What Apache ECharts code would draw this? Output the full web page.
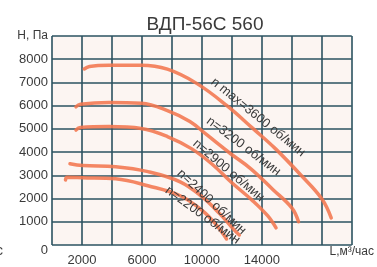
<!DOCTYPE html>
<html>
<head>
<meta charset="utf-8">
<script src="https://cdn.jsdelivr.net/npm/echarts@6/dist/echarts.min.js"></script>
<style>html,body{margin:0;padding:0;background:#fff;}#c{width:377px;height:267px;}</style>
</head>
<body>
<div id="c"></div>
<script>
// ---- data ----
const title = 'ВДП-56С 560';
const yName = 'H, Па';
const xName = 'L,м³/час';
const xTickLabels = [2000, 6000, 10000, 14000];

const flow3600 = [2150, 2500, 3800, 5950, 7700, 9650, 11650, 13400, 14900, 16650, 18000, 18630];
const pres3600 = [7580, 7690, 7740, 7740, 7570, 6960, 6010, 5020, 4150, 2980, 1990, 1170];

const flow3200 = [1600, 1900, 3800, 5950, 7700, 9200, 10300, 11900, 13250, 14750, 16000, 16450];
const pres3200 = [5950, 6060, 6140, 6100, 5790, 5320, 4760, 3940, 3290, 2380, 1600, 1000];

const flow2900 = [1600, 1900, 3800, 5950, 7700, 9300, 10650, 12000, 13400, 14400, 14950];
const pres2900 = [4950, 5060, 5100, 5015, 4670, 4150, 3500, 2680, 1900, 1250, 740];

const flow2400 = [1200, 2050, 4250, 6400, 8550, 10000, 11200, 12150, 12500];
const pres2400 = [3500, 3420, 3370, 3160, 2720, 2080, 1340, 650, 430];

const flow2200 = [900, 1000, 2050, 4250, 6400, 8550, 10050, 10850, 11650];
const pres2200 = [2800, 2920, 2900, 2850, 2550, 2120, 1470, 950, 260];

const curveNames = ['n max=3600 об/мин', 'n=3200 об/мин', 'n=2900 об/мин', 'n=2400 об/мин', 'n=2200 об/мин'];

// ---- presentation ----
const curves = [[flow3600, pres3600], [flow3200, pres3200], [flow2900, pres2900], [flow2400, pres2400], [flow2200, pres2200]];
const labelPlace = [
  {coord: [13750, 5500], rot: -39},
  {coord: [12780, 4250], rot: -37},
  {coord: [11780, 3200], rot: -40},
  {coord: [10650, 1850], rot: -43},
  {coord: [10050, 1280], rot: -36}
];
const gridColor = '#2b5260';
const curveColor = '#f2764f';
const textColor = '#3a3a3a';
const font = 'Liberation Sans, Arial, sans-serif';

const series = curves.map((c, i) => ({
  type: 'line',
  name: curveNames[i],
  data: c[0].map((x, k) => [x, c[1][k]]),
  smooth: 0.4,
  showSymbol: false,
  symbol: 'none',
  lineStyle: {color: curveColor, width: 3.5, opacity: 0.88, cap: 'round'},
  z: 3,
  markPoint: {
    symbol: 'circle', symbolSize: 0, silent: true,
    data: [{coord: labelPlace[i].coord, value: curveNames[i]}],
    label: {show: true, position: 'inside', rotate: labelPlace[i].rot, formatter: curveNames[i],
      color: textColor, fontSize: 13, fontFamily: font}
  }
}));

const chart = echarts.init(document.getElementById('c'), null, {renderer: 'canvas'});
chart.setOption({
  animation: false,
  backgroundColor: '#ffffff',
  title: {text: title, left: 200, top: 10, textAlign: 'center',
    textStyle: {color: textColor, fontSize: 19, fontWeight: 'normal', fontFamily: font}},
  grid: {left: 52, right: 19, top: 36, bottom: 21, show: true, backgroundColor: '#fcf5f2', borderWidth: 0},
  xAxis: {
    type: 'value', min: 0, max: 20000, interval: 2000,
    axisLine: {show: false}, axisTick: {show: false},
    splitLine: {show: true, lineStyle: {color: gridColor, width: 1.6}},
    axisLabel: {
      margin: 1, color: textColor, fontSize: 13, fontFamily: font,
      formatter: v => v === 20000 ? '{n|' + xName + '}' : (xTickLabels.indexOf(v) >= 0 ? '{a|' + v + '}' : ''),
      rich: {a: {padding: [8, 0, 0, 0], fontSize: 13, color: textColor, fontFamily: font},
             n: {fontSize: 12, color: textColor, fontFamily: font}}
    }
  },
  yAxis: {
    type: 'value', min: 0, max: 9000, interval: 1000,
    axisLine: {show: false}, axisTick: {show: false},
    splitLine: {show: true, lineStyle: {color: gridColor, width: 1.6}},
    axisLabel: {
      margin: 4, color: textColor, fontSize: 13, fontFamily: font,
      formatter: v => v === 9000 ? '{h|' + yName + '}' : (v === 0 ? '{z|0}' : String(v)),
      rich: {h: {fontSize: 12, color: textColor, fontFamily: font},
             z: {padding: [10, 0, 0, 0], fontSize: 13, color: textColor, fontFamily: font}}
    }
  },
  graphic: [{type: 'text', left: -4, top: 244, style: {text: 'с', fontSize: 14, fill: textColor, font: '14px Liberation Sans'}}],
  series: series
});
</script>
</body>
</html>
